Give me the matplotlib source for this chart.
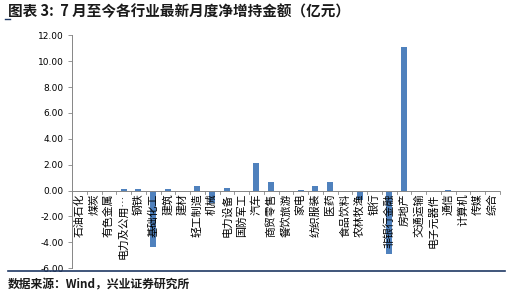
import matplotlib.pyplot as plt
import numpy as np

plt.rcParams['font.family'] = ['Noto Sans CJK SC', 'DejaVu Sans']

industries = ['石油石化', '煤炭', '有色金属', '电力及公用…', '钢铁', '基础化工', '建筑', '建材',
              '轻工制造', '机械', '电力设备', '国防军工', '汽车', '商贸零售', '餐饮旅游', '家电',
              '纺织服装', '医药', '食品饮料', '农林牧渔', '银行', '非银行金融', '房地产', '交通运输',
              '电子元器件', '通信', '计算机', '传媒', '综合']
values = [0.0, 0.0, 0.0, 0.08, 0.08, -4.4, 0.08, 0.0,
          0.36, -1.0, 0.18, 0.0, 2.15, 0.64, 0.0, 0.06,
          0.33, 0.64, 0.0, -0.7, 0.0, -4.9, 11.1, 0.0,
          0.0, 0.05, -0.05, 0.0, 0.0]
yticks = [-6, -4, -2, 0, 2, 4, 6, 8, 10, 12]

fig = plt.figure(figsize=(5.09, 2.97), dpi=100)
ax = fig.add_axes([0.1415, 0.0976, 0.982 - 0.1415, 0.8805 - 0.0976])

x = np.arange(len(industries))
ax.bar(x, values, width=0.4, color='#4F81BD', zorder=2)

ax.set_xlim(-0.5, len(industries) - 0.5)
ax.set_ylim(-6, 12)
ax.set_yticks(yticks)
ax.set_yticklabels(['%.2f' % v for v in yticks], fontsize=6.5, family=['DejaVu Sans'])
ax.tick_params(axis='y', length=3, width=0.6, color='#868686', pad=3)

for s in ['top', 'right', 'bottom']:
    ax.spines[s].set_visible(False)
ax.spines['left'].set_color('#868686')
ax.spines['left'].set_linewidth(0.7)

# category axis at zero
ax.axhline(0, color='#868686', lw=0.7, zorder=3)
ax.set_xticks([])
for b in np.arange(-0.5, len(industries), 1.0):
    ax.plot([b, b], [0, -0.28], color='#868686', lw=0.6, clip_on=False, zorder=3)
for i, name in enumerate(industries):
    ax.text(i, -0.22, name, rotation=90, ha='center', va='top', fontsize=7.8,
            color='#000000', zorder=4)

fig.text(0.016, 0.962, '图表 3:  7 月至今各行业最新月度净增持金额（亿元）', fontsize=10.5,
         fontweight='heavy', color='#1a1a1a', va='center', ha='left')
fig.add_artist(plt.Line2D([0.01, 0.02], [0.935, 0.935], color='#1F3864', lw=1.0))
fig.add_artist(plt.Line2D([0.016, 0.992], [0.088, 0.088], color='#1F3864', lw=1.2))
fig.text(0.016, 0.04, '数据来源：Wind，兴业证券研究所', fontsize=8.5, fontweight='bold',
         color='#1a1a1a', va='center', ha='left')

fig.savefig('out.png', dpi=100)
